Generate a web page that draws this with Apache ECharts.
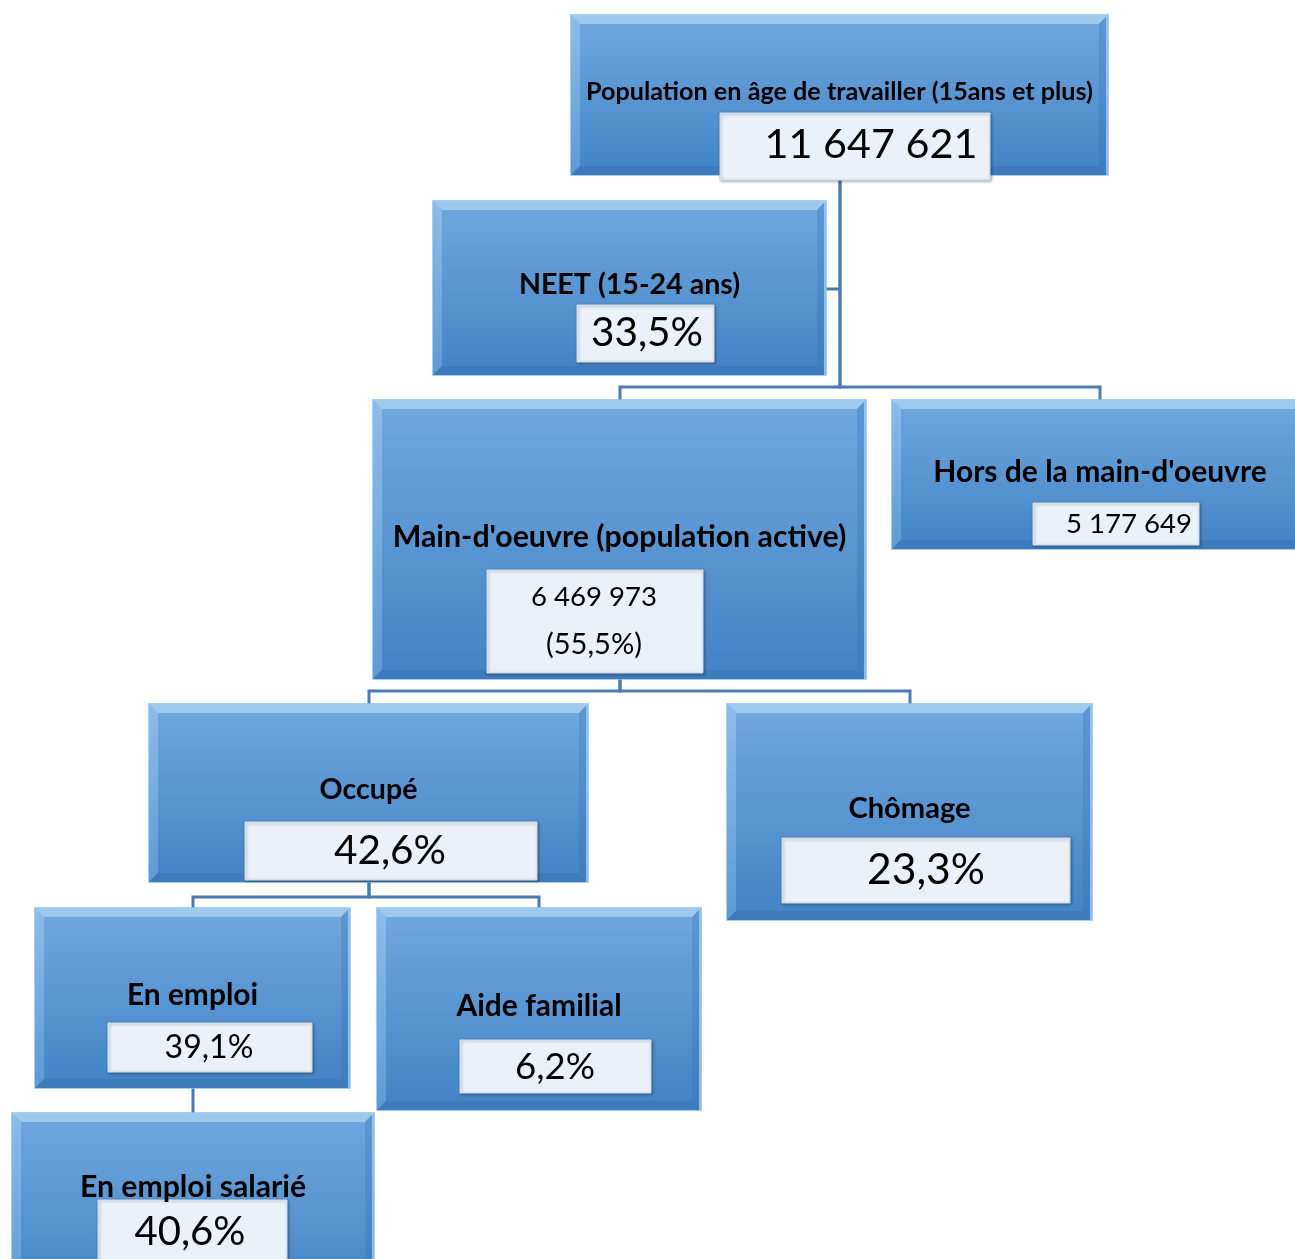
<!DOCTYPE html>
<html><head><meta charset="utf-8">
<script src="https://cdn.jsdelivr.net/npm/echarts@6/dist/echarts.min.js"></script>
<style>html,body{margin:0;padding:0;background:#fff}#c{width:1295px;height:1259px}</style>
</head><body><div id="c"></div>
<script>
// ---- data ----
const nodeNames = ['Population en âge de travailler (15ans et plus)', 'NEET (15-24 ans)', "Main-d'oeuvre (population active)", "Hors de la main-d'oeuvre", 'Occupé', 'Chômage', 'En emploi', 'Aide familial', 'En emploi salarié'];
const nodeCounts = [11647621, null, 6469973, 5177649, null, null, null, null, null];
const nodeShares = [null, 33.5, 55.5, null, 42.6, 23.3, 39.1, 6.2, 40.6];
const nodeParents = [null, 0, 0, 0, 2, 2, 4, 4, 6];

// ---- layout (chart units) ----
const boxes = [
  {x:571,y:15,x2:1108,y2:175, ix:720,iy:113,ix2:990,iy2:180, ty:92, tw:508, vy:[145], vw:[213], vx:871, elbow:387},
  {x:433,y:201,x2:826,y2:375, ix:577,iy:305,ix2:714,iy2:362, ty:285, tw:221, vy:[333], vw:[112], vx:647, side:289},
  {x:373,y:400,x2:866,y2:679, ix:487,iy:570,ix2:703,iy2:673, ty:537, tw:454, vy:[597,645], vw:[126,96], vx:594, elbow:691},
  {x:892,y:400,x2:1308,y2:549, ix:1033,iy:503,ix2:1199,iy2:545, ty:472, tw:333, vy:[524], vw:[126], vx:1129},
  {x:149,y:704,x2:588,y2:882, ix:245,iy:822,ix2:537,iy2:880, ty:790, tw:98, vy:[851], vw:[112], vx:390, elbow:897},
  {x:727,y:704,x2:1092,y2:920, ix:782,iy:838,ix2:1070,iy2:903, ty:809, tw:122, vy:[870], vw:[118], vx:926},
  {x:35,y:908,x2:350,y2:1088, ix:108,iy:1023,ix2:312,iy2:1072, ty:995, tw:131, vy:[1048], vw:[89], vx:209, elbow:1100},
  {x:377,y:908,x2:701,y2:1110, ix:460,iy:1040,ix2:651,iy2:1093, ty:1006, tw:165, vy:[1067], vw:[80], vx:555},
  {x:12,y:1113,x2:374,y2:1300, ix:98,iy:1200,ix2:287,iy2:1270, ty:1187, tw:226, vy:[1232], vw:[111], vx:190}
];

const FONT = 'Lato';
const mctx = document.createElement('canvas').getContext('2d');
function fitSize(text, weight, target) {
  mctx.font = weight + ' 100px ' + FONT;
  return 100 * target / mctx.measureText(text).width;
}
function fmtInt(n){ return String(n).replace(/\B(?=(\d{3})+(?!\d))/g, ' '); }
function fmtPct(p){ return p.toFixed(1).replace('.', ',') + '%'; }
function valueLines(i){
  const lines = [];
  if (nodeCounts[i] != null) lines.push(fmtInt(nodeCounts[i]));
  if (nodeShares[i] != null) lines.push(nodeCounts[i] != null ? '(' + fmtPct(nodeShares[i]) + ')' : fmtPct(nodeShares[i]));
  return lines;
}

// links built from tree structure
const linkData = [];
nodeParents.forEach((p, i) => { if (p !== null) linkData.push([p, i]); });

function renderBox(params, api) {
  const i = api.value(0);
  const L = boxes[i];
  const a = api.coord([L.x, L.y]), b = api.coord([L.x2, L.y2]);
  const x = a[0], y = a[1], w = b[0]-a[0], h = b[1]-a[1];
  const bv = 9;
  const ia = api.coord([L.ix, L.iy]), ib = api.coord([L.ix2, L.iy2]);
  const cx = (x + x + w) / 2;
  const children = [
    {type:'rect', shape:{x, y, width:w, height:h}, style:{fill:new echarts.graphic.LinearGradient(0,0,0,1,[{offset:0,color:'#71a8dd'},{offset:1,color:'#4283c6'}]), stroke:'#8cbde9', lineWidth:1.5}},
    {type:'polygon', shape:{points:[[x,y],[x+w,y],[x+w-bv,y+bv],[x+bv,y+bv]]}, style:{fill:'#a3cdf1', opacity:0.9}},
    {type:'polygon', shape:{points:[[x,y],[x+bv,y+bv],[x+bv,y+h-bv],[x,y+h]]}, style:{fill:new echarts.graphic.LinearGradient(0,0,0,1,[{offset:0,color:'#8cbdeb'},{offset:1,color:'#5d9ad6'}])}},
    {type:'polygon', shape:{points:[[x+w,y],[x+w,y+h],[x+w-bv,y+h-bv],[x+w-bv,y+bv]]}, style:{fill:new echarts.graphic.LinearGradient(0,0,0,1,[{offset:0,color:'#5e98d2'},{offset:1,color:'#3f7cbd'}])}},
    {type:'polygon', shape:{points:[[x,y+h],[x+bv,y+h-bv],[x+w-bv,y+h-bv],[x+w,y+h]]}, style:{fill:'#3e7bbd'}},
    {type:'line', shape:{x1:x+w-1, y1:y, x2:x+w-1, y2:y+h}, style:{stroke:'#a9d0f2', lineWidth:1.5}},
    {type:'rect', shape:{x:ia[0], y:ia[1], width:ib[0]-ia[0], height:ib[1]-ia[1]}, style:{fill:'#ebf1f8', stroke:'#d3e1ef', lineWidth:1, shadowBlur:3, shadowOffsetX:1, shadowOffsetY:1, shadowColor:'rgba(0,0,0,0.35)'}},
    {type:'text', style:{text:nodeNames[i], x:cx, y:api.coord([0,L.ty])[1], align:'center', verticalAlign:'middle', fill:'#000', font:'bold ' + fitSize(nodeNames[i],'bold',L.tw).toFixed(1) + 'px ' + FONT}}
  ];
  const lines = valueLines(i);
  lines.forEach((t, k) => {
    children.push({type:'text', style:{text:t, x:api.coord([L.vx,0])[0], y:api.coord([0,L.vy[k]])[1], align:'center', verticalAlign:'middle', fill:'#000', font:'normal ' + fitSize(t,'normal',L.vw[k]).toFixed(1) + 'px ' + FONT}});
  });
  return {type:'group', children};
}

function renderLink(params, api) {
  const p = api.value(0), c = api.value(1);
  const P = boxes[p], C = boxes[c];
  const pcx = Math.round((P.x + P.x2) / 2), ccx = Math.round((C.x + C.x2) / 2);
  const pBottom = Math.max(P.y2, P.iy2);
  let pts;
  if (C.side != null) {
    pts = [[pcx, C.side], [C.x2, C.side]];
  } else {
    pts = [[pcx, pBottom], [pcx, P.elbow], [ccx, P.elbow], [ccx, C.y]];
  }
  return {type:'polyline', shape:{points:pts.map(q => api.coord(q))}, style:{stroke:'#4a7bb2', lineWidth:3, fill:null}};
}

const chart = echarts.init(document.getElementById('c'));
chart.setOption({
  animation:false,
  grid:{left:0,right:0,top:0,bottom:0},
  xAxis:{type:'value', min:0, max:1295, show:false},
  yAxis:{type:'value', min:0, max:1259, inverse:true, show:false},
  series:[
    {type:'custom', coordinateSystem:'cartesian2d', renderItem:renderLink, data:linkData, z:1, clip:true},
    {type:'custom', coordinateSystem:'cartesian2d', renderItem:renderBox, data:nodeNames.map((n,i)=>[i]), z:2, clip:true}
  ]
});
</script></body></html>
